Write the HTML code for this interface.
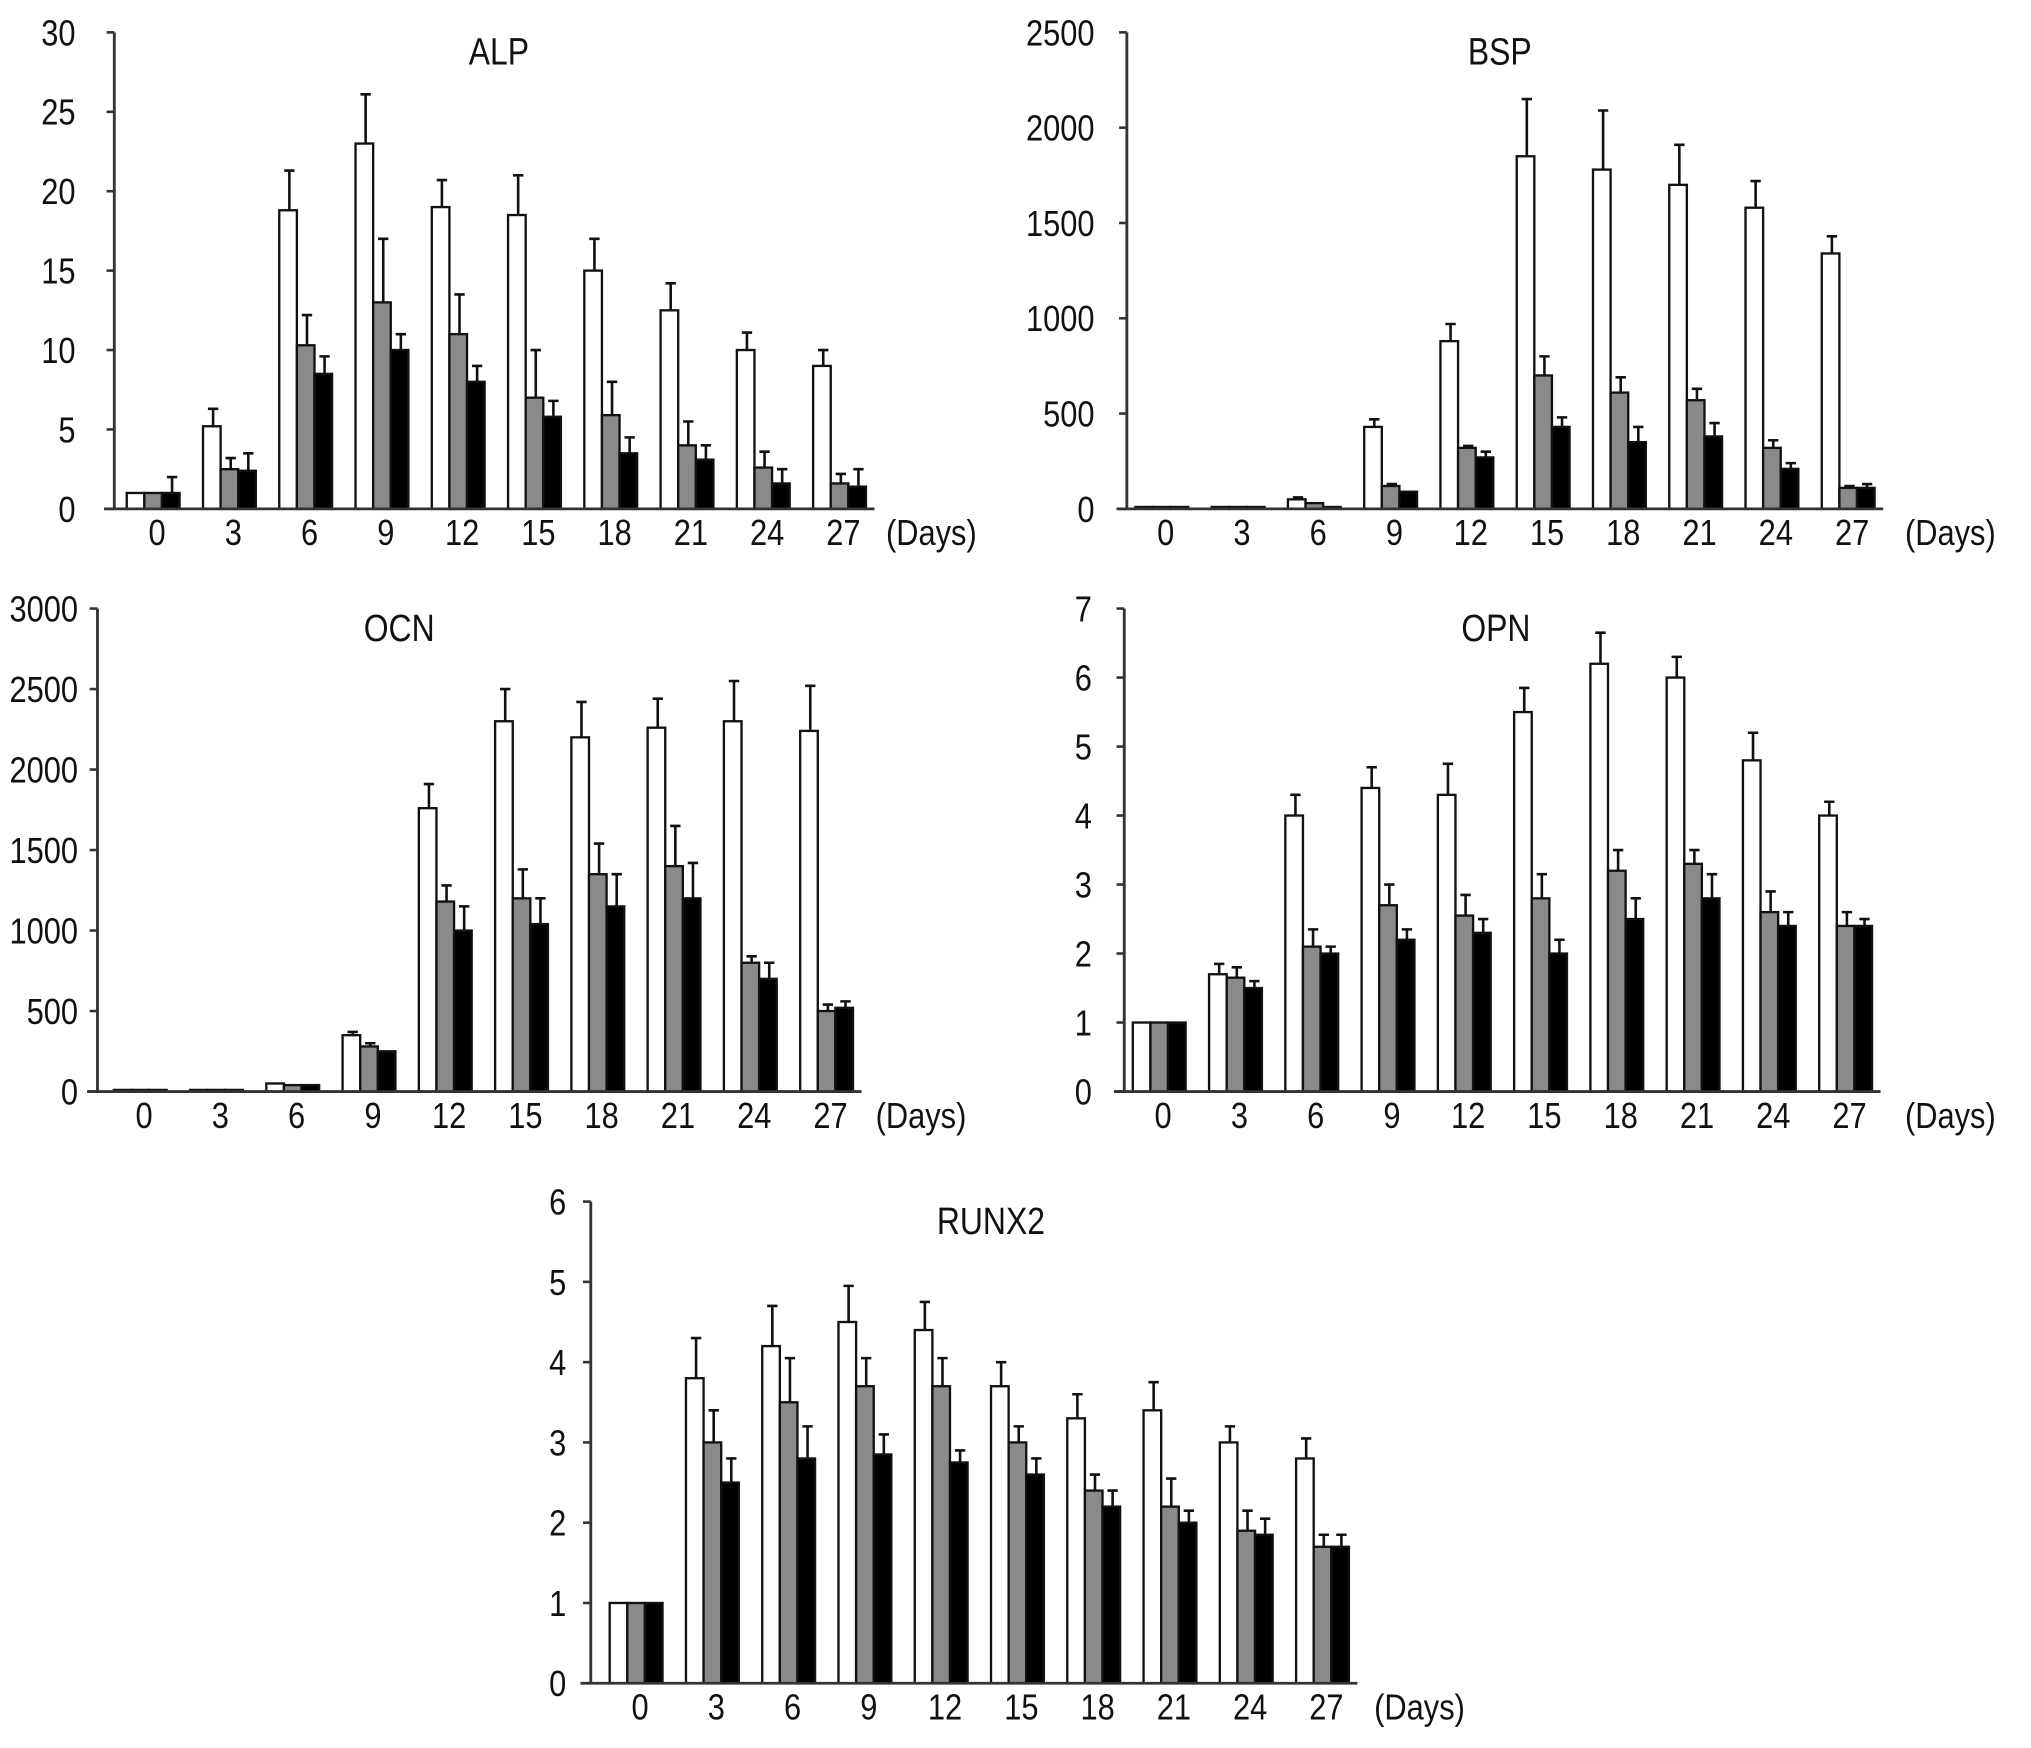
<!DOCTYPE html>
<html><head><meta charset="utf-8"><style>
html,body{margin:0;padding:0;background:#fff;}
svg{display:block;}
text{font-family:"Liberation Sans",Arial,sans-serif;fill:#111;}
</style></head><body>
<svg id="fig" width="2031" height="1748" viewBox="0 0 1568 1350" xmlns="http://www.w3.org/2000/svg"></svg>
<script>
const days = ["0","3","6","9","12","15","18","21","24","27"];
// ALP
const alpTicks = [0,5,10,15,20,25,30];
const alpWhite = [1,5.2,18.8,23,19,18.5,15,12.5,10,9];
const alpWhiteErr = [1,6.3,21.3,26.1,20.7,21,17,14.2,11.1,10];
const alpGray = [1,2.5,10.3,13,11,7,5.9,4,2.6,1.6];
const alpGrayErr = [1,3.2,12.2,17,13.5,10,8,5.5,3.6,2.2];
const alpBlack = [1,2.4,8.5,10,8,5.8,3.5,3.1,1.6,1.4];
const alpBlackErr = [2,3.5,9.6,11,9,6.8,4.5,4,2.5,2.5];
// BSP
const bspTicks = [0,500,1000,1500,2000,2500];
const bspWhite = [10,10,50,430,880,1850,1780,1700,1580,1340];
const bspWhiteErr = [10,10,60,470,970,2150,2090,1910,1720,1430];
const bspGray = [10,10,30,120,320,700,610,570,320,110];
const bspGrayErr = [10,10,30,130,330,800,690,630,360,120];
const bspBlack = [10,10,10,90,270,430,350,380,210,110];
const bspBlackErr = [10,10,10,90,300,480,430,450,240,130];
// OCN
const ocnTicks = [0,500,1000,1500,2000,2500,3000];
const ocnWhite = [10,10,50,350,1760,2300,2200,2260,2300,2240];
const ocnWhiteErr = [10,10,50,370,1910,2500,2420,2440,2550,2520];
const ocnGray = [10,10,40,280,1180,1200,1350,1400,800,500];
const ocnGrayErr = [10,10,40,300,1280,1380,1540,1650,840,540];
const ocnBlack = [10,10,40,250,1000,1040,1150,1200,700,520];
const ocnBlackErr = [10,10,40,250,1150,1200,1350,1420,800,560];
// OPN
const opnTicks = [0,1,2,3,4,5,6,7];
const opnWhite = [1,1.7,4,4.4,4.3,5.5,6.2,6,4.8,4];
const opnWhiteErr = [1,1.85,4.3,4.7,4.75,5.85,6.65,6.3,5.2,4.2];
const opnGray = [1,1.65,2.1,2.7,2.55,2.8,3.2,3.3,2.6,2.4];
const opnGrayErr = [1,1.8,2.35,3.0,2.85,3.15,3.5,3.5,2.9,2.6];
const opnBlack = [1,1.5,2,2.2,2.3,2,2.5,2.8,2.4,2.4];
const opnBlackErr = [1,1.6,2.1,2.35,2.5,2.2,2.8,3.15,2.6,2.5];
// RUNX2
const runTicks = [0,1,2,3,4,5,6];
const runWhite = [1,3.8,4.2,4.5,4.4,3.7,3.3,3.4,3,2.8];
const runWhiteErr = [1,4.3,4.7,4.95,4.75,4,3.6,3.75,3.2,3.05];
const runGray = [1,3,3.5,3.7,3.7,3,2.4,2.2,1.9,1.7];
const runGrayErr = [1,3.4,4.05,4.05,4.05,3.2,2.6,2.55,2.15,1.85];
const runBlack = [1,2.5,2.8,2.85,2.75,2.6,2.2,2,1.85,1.7];
const runBlackErr = [1,2.8,3.2,3.1,2.9,2.8,2.4,2.15,2.05,1.85];

const NS = "http://www.w3.org/2000/svg";
const svg = document.getElementById('fig');
function mk(tag, attrs, parent){
  const e = document.createElementNS(NS, tag);
  for (const k in attrs) e.setAttribute(k, attrs[k]);
  (parent||svg).appendChild(e); return e;
}
function txt(s, x, y, size, anchor, parent){
  const t = mk('text', {transform:`translate(${x},${y}) scale(0.85,1)`, 'font-size':size, 'text-anchor':anchor}, parent);
  t.textContent = s; return t;
}

function panel(name, P, ticks, series, errs){
  const g = mk('g', {});
  
  
  const max = ticks[ticks.length-1];
  const y = v => P.y0 - (v/max)*(P.y0-P.ytop);
  const step = 58.9;
  const xc = i => P.c0 + i*step;
  const bw = 13.6;
  const fills = ['#fff','#8a8a8a','#000'];
  const tt = txt(name, P.tx, P.ytop+25, 29, 'middle', g);
  
  
  series.forEach((vals, s) => {
    vals.forEach((v, i) => {
      const bx = xc(i) - 3 - 1.5*bw + s*bw;
      const r = mk('rect', {x:bx, y:y(v), width:bw, height:P.y0-y(v), fill:fills[s], stroke:'#111', 'stroke-width':1.8}, g);
      
      
      const e = errs[s][i];
      if (e > v) {
        const cx = bx + bw/2 + 1;
        const el = mk('path', {d:`M${cx},${y(v)}V${y(e)}M${cx-4},${y(e)}H${cx+4}`, stroke:'#111', 'stroke-width':2, fill:'none'}, g);
        
        
      }
    });
  });
  const ya = mk('line', {x1:P.x0, y1:P.ytop, x2:P.x0, y2:P.y0, stroke:'#333', 'stroke-width':2.2}, g);
  
  
  const xa = mk('line', {x1:P.x0-8, y1:P.y0, x2:xc(9)+24, y2:P.y0, stroke:'#333', 'stroke-width':2.2}, g);
  
  
  ticks.forEach(t => {
    mk('line', {x1:P.x0-6, y1:y(t), x2:P.x0, y2:y(t), stroke:'#333', 'stroke-width':2}, g);
    const l = txt(String(t), P.x0-P.lo, y(t)+10, 28, 'end', g);
    
    
  });
  days.forEach((d, i) => {
    const l = txt(d, xc(i), P.y0+28, 28, 'middle', g);
    
    
  });
  const dl = txt('(Days)', P.dx, P.y0+28, 28, 'start', g);
  
  
}

panel('ALP', {x0:88, y0:393, ytop:25, c0:121, tx:385, dx:684, lo:30}, alpTicks,
  [alpWhite, alpGray, alpBlack], [alpWhiteErr, alpGrayErr, alpBlackErr]);
panel('BSP', {x0:870, y0:393, ytop:25, c0:900, tx:1158, dx:1471, lo:25}, bspTicks,
  [bspWhite, bspGray, bspBlack], [bspWhiteErr, bspGrayErr, bspBlackErr]);
panel('OCN', {x0:75, y0:843, ytop:470, c0:111, tx:308, dx:676, lo:15}, ocnTicks,
  [ocnWhite, ocnGray, ocnBlack], [ocnWhiteErr, ocnGrayErr, ocnBlackErr]);
panel('OPN', {x0:868, y0:843, ytop:470, c0:898, tx:1155, dx:1471, lo:25}, opnTicks,
  [opnWhite, opnGray, opnBlack], [opnWhiteErr, opnGrayErr, opnBlackErr]);
panel('RUNX2', {x0:456, y0:1300, ytop:928, c0:494, tx:765, dx:1061, lo:19}, runTicks,
  [runWhite, runGray, runBlack], [runWhiteErr, runGrayErr, runBlackErr]);
</script>
</body></html>
